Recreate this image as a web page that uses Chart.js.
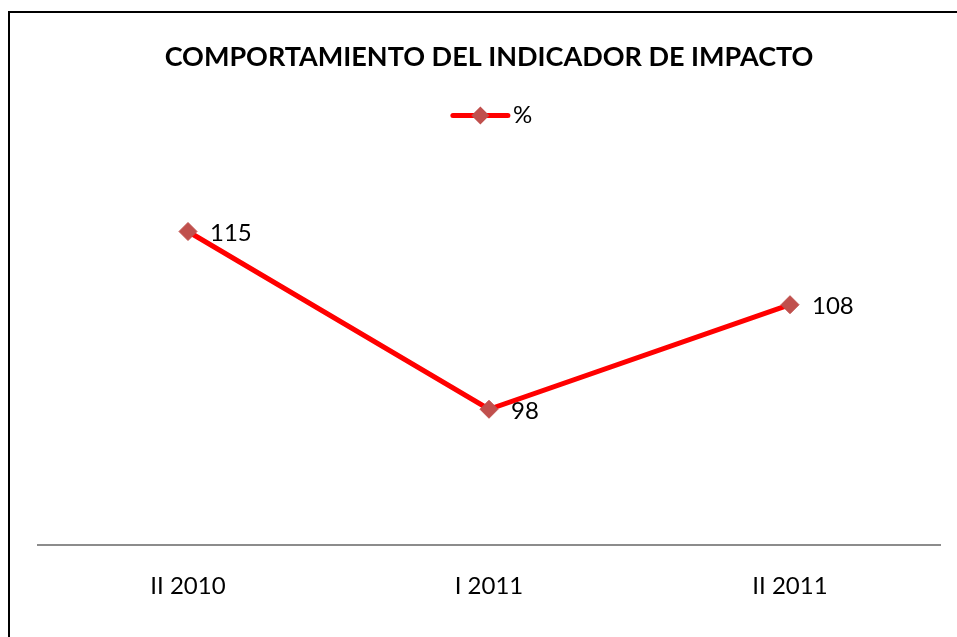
<!DOCTYPE html>
<html>
<head>
<meta charset="utf-8">
<script src="https://cdn.jsdelivr.net/npm/chart.js@4.4.1/dist/chart.umd.min.js"></script>
<style>
    html, body { margin: 0; padding: 0; background: #fff; overflow: hidden; }
    #wrap { position: relative; width: 957px; height: 637px; }
    #frame {
        position: absolute; left: 8px; top: 11px; width: 1000px; height: 700px;
        border-top: 2px solid #000; border-left: 2px solid #000;
        box-sizing: border-box; pointer-events: none;
    }
    canvas { position: absolute; left: 0; top: 0; }
</style>
</head>
<body>
<div id="wrap">
    <canvas id="lineChart" width="957" height="637"></canvas>
    <div id="frame"></div>
</div>
<script>
// Chart data
const periods = ['II 2010', 'I 2011', 'II 2011'];
const percentValues = [115, 98, 108];
const seriesName = '%';
const chartTitle = 'COMPORTAMIENTO DEL INDICADOR DE IMPACTO';

const FONT = 'Lato, "Open Sans", sans-serif';
const LINE_COLOR = '#FF0000';
const MARKER_COLOR = '#C0504D';

// Draw value labels to the right of each point
const valueLabels = {
    id: 'valueLabels',
    afterDatasetsDraw(chart) {
        const ctx = chart.ctx;
        const meta = chart.getDatasetMeta(0);
        ctx.save();
        ctx.font = '24px ' + FONT;
        ctx.fillStyle = '#000';
        ctx.textAlign = 'left';
        ctx.textBaseline = 'middle';
        meta.data.forEach((pt, i) => {
            ctx.fillText(String(percentValues[i]), pt.x + 22, pt.y + 2);
        });
        ctx.restore();
    }
};

// Legend symbol: thick line with a diamond marker, drawn over the (hidden) legend box
const legendMarker = {
    id: 'legendMarker',
    afterDraw(chart) {
        const boxes = chart.legend && chart.legend.legendHitBoxes;
        if (!boxes || !boxes.length) return;
        const b = boxes[0];
        const opts = chart.legend.options.labels;
        const textX = b.left + opts.boxWidth + opts.font.size / 2;
        const x1 = textX - 5;
        const x0 = x1 - 55;
        const cy = b.top + b.height / 2;
        const cx = (x0 + x1) / 2;
        const r = 9;
        const ctx = chart.ctx;
        ctx.save();
        ctx.strokeStyle = LINE_COLOR;
        ctx.lineWidth = 5;
        ctx.lineCap = 'round';
        ctx.beginPath();
        ctx.moveTo(x0, cy);
        ctx.lineTo(x1, cy);
        ctx.stroke();
        ctx.fillStyle = MARKER_COLOR;
        ctx.beginPath();
        ctx.moveTo(cx, cy - r);
        ctx.lineTo(cx + r, cy);
        ctx.lineTo(cx, cy + r);
        ctx.lineTo(cx - r, cy);
        ctx.closePath();
        ctx.fill();
        ctx.restore();
    }
};

new Chart(document.getElementById('lineChart').getContext('2d'), {
    type: 'line',
    data: {
        labels: periods,
        datasets: [{
            label: seriesName,
            data: percentValues,
            borderColor: LINE_COLOR,
            backgroundColor: LINE_COLOR,
            borderWidth: 5,
            pointStyle: 'rectRot',
            pointRadius: 9,
            pointBackgroundColor: MARKER_COLOR,
            pointBorderColor: MARKER_COLOR,
            pointBorderWidth: 1,
            tension: 0,
            fill: false,
        }],
    },
    options: {
        responsive: false,
        animation: false,
        layout: {
            padding: { left: 37.5, right: 16.5, top: 0, bottom: 9 },
        },
        plugins: {
            title: {
                display: true,
                text: chartTitle,
                color: '#000',
                font: { size: 27, weight: 'bold', family: FONT },
                padding: { top: 41, bottom: 20 },
            },
            legend: {
                display: true,
                position: 'top',
                labels: {
                    color: '#000',
                    boxWidth: 55,
                    boxHeight: 5,
                    font: { size: 24, family: FONT },
                    padding: 10,
                    generateLabels(chart) {
                        const items = Chart.defaults.plugins.legend.labels.generateLabels(chart);
                        items.forEach((it) => {
                            it.fillStyle = 'rgba(0,0,0,0)';
                            it.strokeStyle = 'rgba(0,0,0,0)';
                            it.lineWidth = 0;
                        });
                        return items;
                    },
                },
            },
            tooltip: { enabled: false },
        },
        scales: {
            x: {
                offset: true,
                grid: { display: false, drawTicks: false },
                border: { display: true, color: '#8C8C8C', width: 2 },
                ticks: {
                    color: '#000',
                    padding: 27,
                    font: { size: 24, family: FONT },
                },
            },
            y: {
                display: false,
                min: 85,
                max: 124,
            },
        },
    },
    plugins: [valueLabels, legendMarker],
});
</script>
</body>
</html>
